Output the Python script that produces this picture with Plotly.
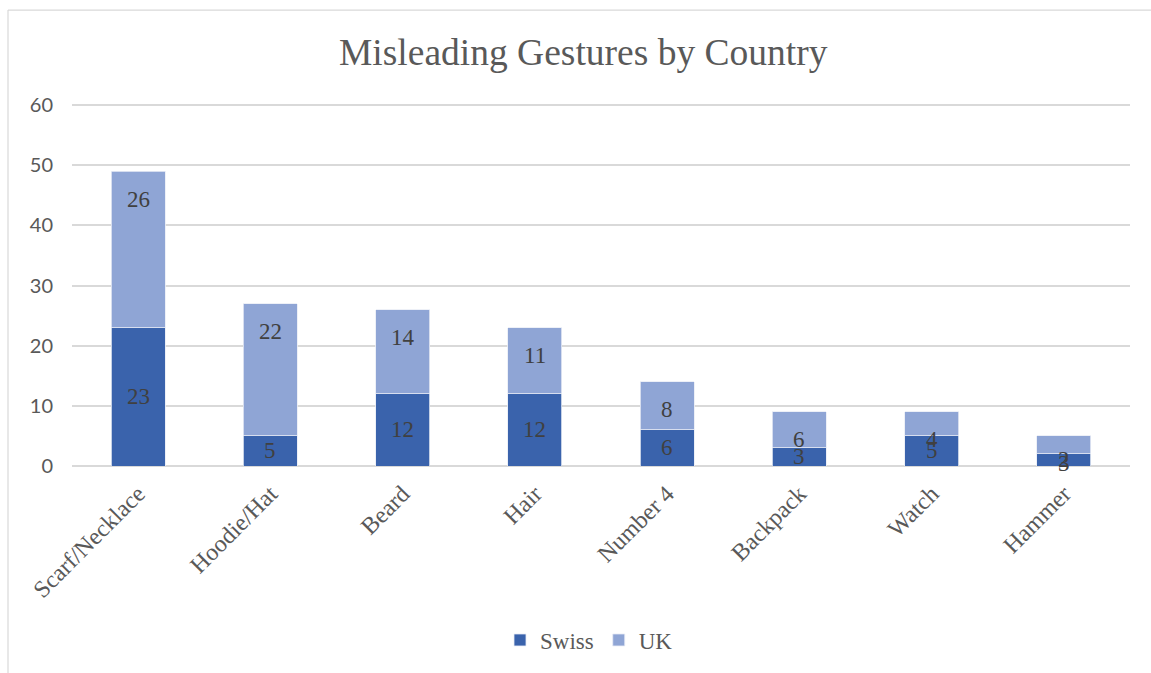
import plotly.graph_objects as go

categories = ["Scarf/Necklace", "Hoodie/Hat", "Beard", "Hair", "Number 4", "Backpack", "Watch", "Hammer"]
swiss = [23, 5, 12, 12, 6, 3, 5, 2]
uk = [26, 22, 14, 11, 8, 6, 4, 3]
series_names = ["Swiss", "UK"]
y_ticks = [0, 10, 20, 30, 40, 50, 60]

SWISS_C = "#3A63AC"
UK_C = "#8FA5D5"
TXT = "#595959"
LBL = "#404040"
SERIF = "Liberation Serif"

W, H = 1151, 673
Y_MAX = 61
L, R, B = 72, 21, 205
PX_PER_UNIT = 363 / 60
ph = Y_MAX * PX_PER_UNIT
T = H - B - ph
pw = W - L - R

def px_x(px):
    return (px - L) / pw

def px_y(py):
    return (H - B - py) / ph

def legend_name(n):
    return '<span style="font-family:Liberation Serif, serif">' + n + '</span>'

fig = go.Figure()
fig.add_trace(go.Bar(x=categories, y=swiss, name=legend_name(series_names[0]),
                     marker=dict(color=SWISS_C, line=dict(color="#E8ECF5", width=0.8)), width=0.41))
fig.add_trace(go.Bar(x=categories, y=uk, name=legend_name(series_names[1]),
                     marker=dict(color=UK_C, line=dict(color="#E8ECF5", width=0.8)), width=0.41))

annotations = []
for c, s, u in zip(categories, swiss, uk):
    annotations.append(dict(x=c, y=s / 2, text=str(s), showarrow=False, xref="x", yref="y",
                            font=dict(family=SERIF, size=23, color=LBL), yanchor="middle"))
    annotations.append(dict(x=c, y=s + u, text=str(u), showarrow=False, xref="x", yref="y", yshift=-28,
                            font=dict(family=SERIF, size=23, color=LBL), yanchor="middle"))

annotations.append(dict(text="Misleading Gestures by Country", x=px_x(583), y=px_y(52), xref="paper", yref="paper",
                        showarrow=False, xanchor="center", yanchor="middle",
                        font=dict(family=SERIF, size=37.5, color=TXT)))

shapes = [
    dict(type="line", xref="paper", yref="paper", x0=px_x(8), x1=px_x(1160), y0=px_y(9.5), y1=px_y(9.5),
         line=dict(color="#D9D9D9", width=1.2)),
    dict(type="line", xref="paper", yref="paper", x0=px_x(8), x1=px_x(8), y0=px_y(9.5), y1=px_y(680),
         line=dict(color="#D9D9D9", width=1.2)),
]

fig.update_layout(
    barmode="stack",
    width=W, height=H,
    margin=dict(l=L, r=R, t=T, b=B, pad=0),
    paper_bgcolor="white", plot_bgcolor="white",
    font=dict(family=SERIF, color=TXT, size=22),
    annotations=annotations,
    shapes=shapes,
    showlegend=True,
    legend=dict(orientation="h", x=px_x(589), y=px_y(643), xanchor="center", yanchor="middle",
                font=dict(family=SERIF, size=23, color=TXT), itemwidth=30, traceorder="normal"),
    xaxis=dict(tickangle=-45, tickfont=dict(family=SERIF, size=24, color=TXT), showgrid=False,
               showline=False, ticks="", zeroline=False, ticklabelstandoff=8),
    yaxis=dict(range=[0, Y_MAX], tickvals=y_ticks, tickfont=dict(family="Lato", size=20, color=TXT),
               showgrid=True, gridcolor="#D9D9D9", gridwidth=1.5, zeroline=True, zerolinecolor="#D9D9D9",
               zerolinewidth=1.5, showline=False, ticks="", ticklabelstandoff=18),
)

fig.write_html("out.html")
